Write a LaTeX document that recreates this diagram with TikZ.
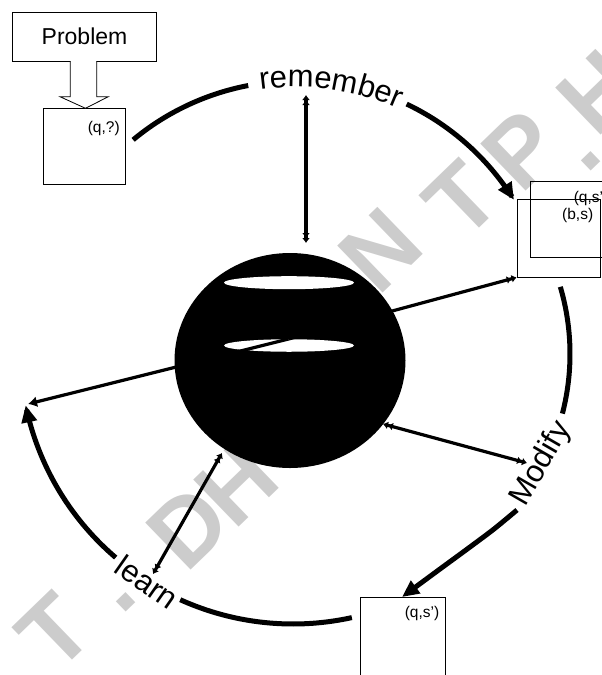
\documentclass[tikz,border=0pt]{standalone}
\usepackage{fontspec}
\setmainfont{Liberation Sans}
\usetikzlibrary{arrows.meta,decorations.text,shapes.geometric}
\newcommand\biglab{\fontsize{31}{36}\selectfont}
\newcommand\smalllab{\fontsize{15.5}{18}\selectfont}
\tikzset{
  boxed/.style={draw, line width=0.8pt, inner sep=0pt},
  cyclearc/.style={line width=5pt},
  link/.style={line width=3.2pt},
  bigtip/.tip={Triangle[length=17pt,width=15pt]},
  dbl/.tip={Latex[length=5pt,width=8pt] Latex[length=5pt,width=8pt]},
  wm/.style={text=black!20, font=\fontsize{95}{100}\selectfont\bfseries, inner sep=0pt, anchor=center, rotate=44},
  lab/.style={font=\biglab, inner sep=0pt},
  slab/.style={font=\smalllab, inner sep=0pt, anchor=north east}
}
\begin{document}
\begin{tikzpicture}[x=1pt,y=-1pt]
\useasboundingbox (0,0) rectangle (602,675);
\clip (0,0) rectangle (602,675);
% watermark glyphs
\node (wm1) [wm] at (55,632) {T};
\node (wm2) [wm] at (126,602) {.};
\node (wm3) [wm] at (188,527) {D};
\node (wm4) [wm] at (236,484) {H};
\node (wm5) [wm] at (380,250) {N};
\node (wm6) [wm] at (462,200) {T};
\node (wm7) [wm] at (522,150) {P};
\node (wm8) [wm] at (591,161) {.};
\node (wm9) [wm] at (598,92) {H};
% sphere
\node (sphere) [ellipse, fill=black, minimum width=231pt, minimum height=215pt, inner sep=0pt] at (290,360.5) {};
\node (rimA) [ellipse, fill=white, minimum width=130pt, minimum height=13pt, inner sep=0pt] at (289,282.7) {};
\node (rimB) [ellipse, fill=white, minimum width=130pt, minimum height=12.5pt, inner sep=0pt] at (289,345.5) {};
% boxes
\node (prob) [boxed, minimum width=144pt, minimum height=48.5pt, font=\fontsize{23}{27}\selectfont] at (84.5,36.7) {Problem};
\node (qbox) [boxed, minimum width=82pt, minimum height=75.5pt] at (84.5,146.2) {};
\node (qtext) [slab] at ([xshift=-6pt,yshift=-13pt]qbox.north east) {(q,?)};
\node (bsbox) [boxed, minimum width=83pt, minimum height=78pt] at (558.5,238) {};
\node (bstext) [slab] at ([xshift=-7pt,yshift=-9pt]bsbox.north east) {(b,s)};
\node (qsbox) [boxed, minimum width=85pt, minimum height=76pt] at (572.5,219) {};
\node (qstext) [slab] at ([xshift=-7pt,yshift=-10pt]qsbox.north east) {(q,s')};
\node (qsbot) [boxed, minimum width=85pt, minimum height=100pt] at (402.5,647) {};
\node (qsbottext) [slab] at ([xshift=-6pt,yshift=-9pt]qsbot.north east) {(q,s')};
% block arrow from Problem to (q,?)
\draw[line width=0.8pt, fill=white] (70.3,61) -- (70.3,96.7) -- (60,96.7) -- (85.5,108.3) -- (108.3,96.7) -- (96.7,96.7) -- (96.7,61);
% remember arc
\draw[cyclearc] plot[domain=-129.7:-100.8, samples=40, variable=\t] ({296+255*cos(\t)},{336+255*sin(\t)});
\draw[cyclearc, -{bigtip}] plot[domain=-64.5:-32, samples=40, variable=\t] ({296+257*cos(\t)},{336+257*sin(\t)});
\path[decorate, decoration={text along path, text={|\biglab|remember}, text align=center}]
  plot[domain=-101:-63, samples=40, variable=\t] ({296+249*cos(\t)},{336+249*sin(\t)});
% Modify arc
\draw[cyclearc] plot[domain=-16.4:14.5, samples=40, variable=\t] ({332+238*cos(\t)},{354+238*sin(\t)});
\draw[cyclearc, -{bigtip}] plot[smooth] coordinates {(517,510) (494,529) (470,547) (440,569) (402,597)};
\node (modify) [lab, rotate=60] at (541,464) {Modify};
% learn arc
\draw[cyclearc] plot[domain=77.6:114.3, samples=40, variable=\t] ({293+274*cos(\t)},{350+274*sin(\t)});
\draw[cyclearc, -{bigtip}] plot[domain=130.5:168.3, samples=40, variable=\t] ({293+273*cos(\t)},{350+273*sin(\t)});
\node (learn) [lab, rotate=-35] at (147,582) {learn};
% links
\coordinate (hub) at (288.5,339);
\coordinate (topA) at (306,95);
\coordinate (topB) at (306,243);
\coordinate (leftEnd) at (28,404);
\coordinate (modA) at (383,424);
\coordinate (modB) at (527,463);
\coordinate (learnA) at (222,453);
\coordinate (learnB) at (153,574);
\draw[link, {dbl}-{dbl}] (topA) -- (topB);
\draw[link, -{Latex[length=9pt,width=11pt]}] (hub) -- (leftEnd);
\draw[link, -{dbl}] (hub) -- (bsbox.south west);
\draw[link, {dbl}-{dbl}] (modA) -- (modB);
\draw[link, {dbl}-{dbl}] (learnA) -- (learnB);
\end{tikzpicture}
\end{document}
